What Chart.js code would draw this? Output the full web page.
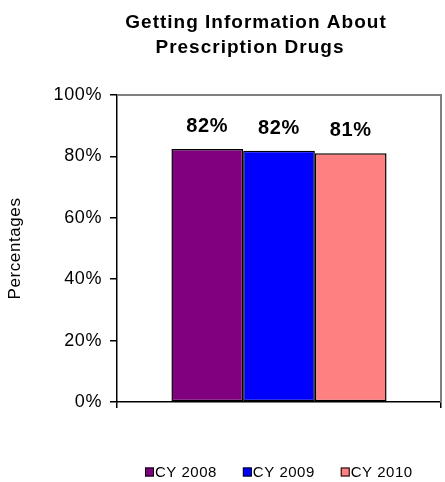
<!DOCTYPE html>
<html>
<head>
<meta charset="utf-8">
<script src="https://cdn.jsdelivr.net/npm/chart.js@4/dist/chart.umd.min.js"></script>
<style>
  html, body { margin: 0; padding: 0; background: #ffffff; }
  #wrap { width: 445px; height: 482px; }
</style>
</head>
<body>
<div id="wrap"><canvas id="c" width="445" height="482"></canvas></div>
<script>
// Chart data
const categories = [''];
const seriesLabels = ['CY 2008', 'CY 2009', 'CY 2010'];
const seriesValues = [82.4, 81.8, 81.0];
const seriesColors = ['#800080', '#0000FF', '#FF8080'];
const yTickValues = [0, 20, 40, 60, 80, 100];
const titleLines = ['Getting Information About', 'Prescription Drugs'];
const yAxisTitle = 'Percentages';

const FONT = "'Liberation Sans', Arial, sans-serif";

// Widened text spacing for every string drawn on the canvas
const spacingPlugin = {
  id: 'spacing',
  beforeLayout(chart) { chart.ctx.letterSpacing = '0.6px'; },
  beforeDraw(chart) { chart.ctx.letterSpacing = '0.6px'; }
};

// Gray frame along the top and right of the plot area
const framePlugin = {
  id: 'frame',
  beforeDatasetsDraw(chart) {
    const { ctx, chartArea: a } = chart;
    ctx.save();
    ctx.strokeStyle = '#808080';
    ctx.lineWidth = 2;
    ctx.beginPath();
    ctx.moveTo(a.left, a.top);
    ctx.lineTo(a.right, a.top);
    ctx.lineTo(a.right, a.bottom);
    ctx.stroke();
    ctx.restore();
  }
};

// Value labels above each bar
const valueLabelPlugin = {
  id: 'valueLabels',
  afterDatasetsDraw(chart) {
    const { ctx } = chart;
    ctx.save();
    ctx.letterSpacing = '0.6px';
    ctx.font = "bold 20px " + FONT;
    ctx.fillStyle = '#000000';
    ctx.textAlign = 'center';
    ctx.textBaseline = 'alphabetic';
    chart.data.datasets.forEach((ds, i) => {
      const bar = chart.getDatasetMeta(i).data[0];
      ctx.fillText(Math.round(ds.data[0]) + '%', bar.x, bar.y - 17);
    });
    ctx.restore();
  }
};

// Two-line title and the legend row beneath the axis
const titleLegendPlugin = {
  id: 'titleLegend',
  afterDraw(chart) {
    const { ctx } = chart;
    ctx.save();
    ctx.fillStyle = '#000000';
    ctx.textAlign = 'center';
    ctx.textBaseline = 'alphabetic';
    ctx.letterSpacing = '1px';
    ctx.font = "bold 19px " + FONT;
    ctx.fillText(titleLines[0], 256, 28);
    ctx.fillText(titleLines[1], 250, 53);

    // legend
    ctx.letterSpacing = '0.5px';
    ctx.font = "15px " + FONT;
    ctx.textAlign = 'left';
    const box = 9, gap = 1, itemGap = 26;
    const widths = seriesLabels.map(t => box + gap + ctx.measureText(t).width);
    const total = widths.reduce((s, w) => s + w, 0) + itemGap * (widths.length - 1);
    const a = chart.chartArea;
    let x = Math.round((a.left + a.right) / 2 - total / 2);
    const y = 472;
    seriesLabels.forEach((t, i) => {
      ctx.fillStyle = seriesColors[i];
      ctx.fillRect(x, y - box / 2, box, box);
      ctx.strokeStyle = '#000000';
      ctx.lineWidth = 1;
      ctx.strokeRect(x + 0.5, y - box / 2 + 0.5, box - 1, box - 1);
      ctx.fillStyle = '#000000';
      ctx.textBaseline = 'middle';
      ctx.fillText(t, x + box + gap, y + 1);
      x += widths[i] + itemGap;
    });
    ctx.restore();
  }
};

const datasets = seriesLabels.map((label, i) => ({
  label: label,
  data: [seriesValues[i]],
  backgroundColor: seriesColors[i],
  borderColor: '#000000',
  borderWidth: 1.5,
  borderSkipped: false,
  barPercentage: 1.0,
  categoryPercentage: 0.664
}));

new Chart(document.getElementById('c'), {
  type: 'bar',
  data: { labels: categories, datasets: datasets },
  options: {
    responsive: false,
    animation: false,
    devicePixelRatio: 1,
    layout: { padding: { top: 95, right: 4, left: 0, bottom: 0 } },
    plugins: {
      legend: { display: false },
      title: { display: false },
      tooltip: { enabled: false }
    },
    scales: {
      x: {
        grid: {
          offset: true,
          drawOnChartArea: false,
          drawTicks: true,
          tickLength: 6,
          color: '#000000',
          lineWidth: 1.5
        },
        border: { color: '#000000', width: 1.5 },
        ticks: { display: false },
        afterFit(scale) { scale.height = 80; }
      },
      y: {
        min: 0,
        max: 100,
        afterBuildTicks(scale) { scale.ticks = yTickValues.map(v => ({ value: v })); },
        grid: {
          drawOnChartArea: false,
          drawTicks: true,
          tickLength: 7,
          color: '#000000',
          lineWidth: 1.5
        },
        border: { color: '#000000', width: 1.5 },
        ticks: {
          color: '#000000',
          font: { family: FONT, size: 18 },
          padding: 8,
          callback: v => v + '%'
        },
        title: {
          display: true,
          text: yAxisTitle,
          color: '#000000',
          font: { family: FONT, size: 17 },
          padding: { top: 5, bottom: 0 }
        },
        afterFit(scale) { scale.width = 117; }
      }
    }
  },
  plugins: [spacingPlugin, framePlugin, valueLabelPlugin, titleLegendPlugin]
});
</script>
</body>
</html>
